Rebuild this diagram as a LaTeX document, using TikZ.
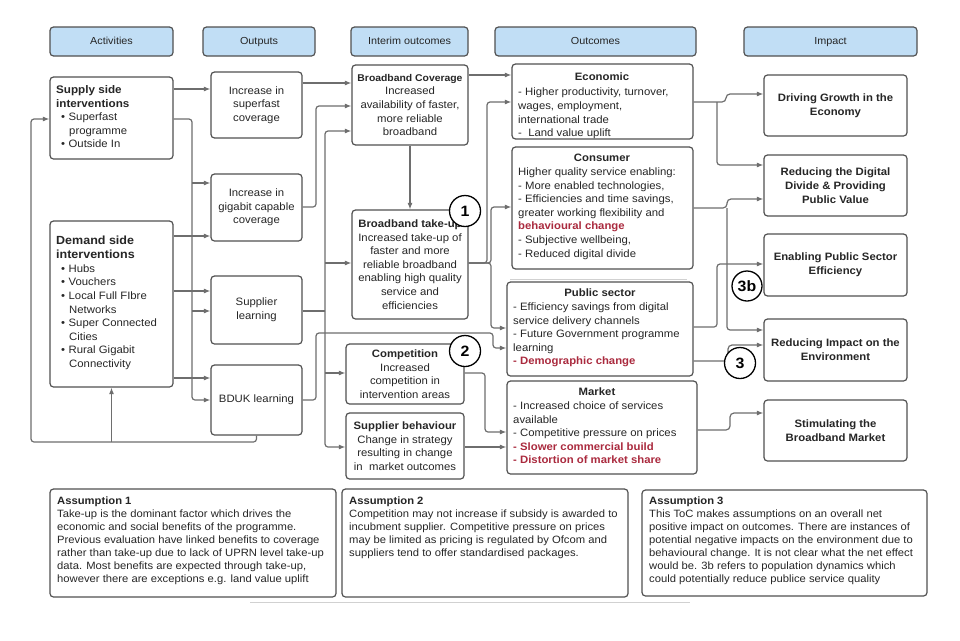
\documentclass[tikz,border=0pt]{standalone}
\usepackage{fontspec}
\setmainfont{Liberation Sans}[FakeStretch=1.06]
\usetikzlibrary{arrows.meta}
\definecolor{bordc}{RGB}{80,80,80}
\definecolor{linec}{RGB}{110,110,110}
\definecolor{hdrfill}{RGB}{193,222,245}
\definecolor{txtc}{RGB}{38,38,38}
\definecolor{redc}{RGB}{170,42,62}
\newcommand\rd[1]{\textcolor{redc}{\textbf{#1}}}
\newcommand\mymp[2]{\begin{minipage}{#1}\raggedright #2\end{minipage}}
\newcommand\bul{\hspace*{5pt}\textbullet\hspace{3.5pt}}
\newcommand\bulc{\hspace*{13pt}}
\begin{document}
\begin{tikzpicture}[x=1pt,y=-1pt,
  bx/.style={draw=bordc, line width=1.2pt, rounded corners=3.5pt, inner sep=0pt, text=txtc, align=center, font=\fontsize{10.7}{13.6}\selectfont},
  hdr/.style={bx, fill=hdrfill, minimum height=29pt, text height=7.8pt, text depth=2.2pt, font=\fontsize{10.2}{12}\selectfont},
  imp/.style={bx, minimum width=143pt, font=\fontsize{10.7}{14}\selectfont\bfseries},
  tx/.style={anchor=north west, inner sep=0pt, text=txtc, font=\fontsize{10.7}{13.6}\selectfont},
  asf/.style={tx, font=\fontsize{10.6}{13}\selectfont},
  ttl/.style={inner sep=0pt, text=txtc, font=\fontsize{10.7}{13.6}\selectfont\bfseries},
  ln/.style={draw=linec, line width=1.2pt},
  arr/.style={ln, -{Latex[length=6.5pt,width=5pt]}},
  num/.style={circle, draw=black, line width=1.3pt, fill=white, minimum size=31pt, inner sep=0pt, font=\fontsize{15}{15}\selectfont\bfseries},
  faint/.style={draw=black!18, line width=0.8pt}]

\fill[white] (0,0) rectangle (960,640);
\useasboundingbox (0,0) rectangle (960,640);

% headers
\node[hdr, minimum width=123pt] (hAct) at (111.5,41.5) {Activities};
\node[hdr, minimum width=112pt] (hOut) at (259,41.5) {Outputs};
\node[hdr, minimum width=117pt] (hInt) at (409.5,41.5) {Interim outcomes};
\node[hdr, minimum width=201pt] (hOutc) at (595.5,41.5) {Outcomes};
\node[hdr, minimum width=173pt] (hImp) at (830.5,41.5) {Impact};

% activities
\node[bx, minimum width=123pt, minimum height=82pt] (sup) at (111.5,118) {};
\node[tx] (supT) at (56,85) {\mymp{120pt}{{\fontsize{11}{14}\selectfont\bfseries Supply side\\interventions\par}\bul Superfast\\\bulc programme\\\bul Outside In}};
\node[bx, minimum width=123pt, minimum height=166pt] (dem) at (111.5,304) {};
\node[tx] (demT) at (56,236) {\mymp{120pt}{{\fontsize{11.8}{14}\selectfont\bfseries Demand side\\interventions\par}\bul Hubs\\\bul Vouchers\\\bul Local Full FIbre\\\bulc Networks\\\bul Super Connected\\\bulc Cities\\\bul Rural Gigabit\\\bulc Connectivity}};

% outputs
\node[bx, minimum width=91pt, minimum height=66pt] (osf) at (256.5,105) {Increase in\\superfast\\coverage};
\node[bx, minimum width=91pt, minimum height=67pt] (ogb) at (256.5,207.5) {Increase in\\gigabit capable\\coverage};
\node[bx, minimum width=91pt, minimum height=68pt] (osl) at (256.5,310) {Supplier\\learning};
\node[bx, minimum width=91pt, minimum height=70pt] (obd) at (256.5,400) {BDUK learning};

% interim outcomes
\node[bx, minimum width=116pt, minimum height=80pt] (icov) at (410,105) {{\fontsize{9.8}{13.5}\selectfont\bfseries Broadband Coverage}\\Increased\\availability of faster,\\more reliable\\broadband};
\node[bx, minimum width=116pt, minimum height=109pt] (itak) at (410,264.5) {\textbf{Broadband take-up}\\Increased take-up of\\faster and more\\reliable broadband\\enabling high quality\\service and\\efficiencies};
\node[bx, minimum width=118pt, minimum height=60pt] (icomp) at (405,374) {\textbf{Competition}\\Increased\\competition in\\intervention areas};
\node[bx, minimum width=118pt, minimum height=66pt] (isb) at (405,446) {\textbf{Supplier behaviour}\\Change in strategy\\resulting in change\\in\ \ market outcomes};

% outcomes
\node[bx, minimum width=181pt, minimum height=75pt] (eco) at (602.5,101.5) {};
\node[ttl] (ecoH) at (602,77) {Economic};
\node[tx] (ecoT) at (518,88) {\mymp{180pt}{- Higher productivity, turnover,\\wages, employment,\\international trade\\-\ \ Land value uplift}};
\node[bx, minimum width=181pt, minimum height=122pt] (con) at (602.5,208) {};
\node[ttl] (conH) at (602,158) {Consumer};
\node[tx] (conT) at (518,167.5) {\mymp{180pt}{Higher quality service enabling:\\- More enabled technologies,\\- Efficiencies and time savings,\\greater working flexibility and\\\rd{behavioural change}\\- Subjective wellbeing,\\- Reduced digital divide}};
\node[bx, minimum width=186pt, minimum height=94pt] (pub) at (600,329) {};
\node[ttl] (pubH) at (600,293) {Public sector};
\node[tx] (pubT) at (513,302.5) {\mymp{185pt}{- Efficiency savings from digital\\service delivery channels\\- Future Government programme\\learning\\\rd{- Demographic change}}};
\node[bx, minimum width=190pt, minimum height=93pt] (mkt) at (602,427.5) {};
\node[ttl] (mktH) at (597,392) {Market};
\node[tx] (mktT) at (513,401.5) {\mymp{185pt}{- Increased choice of services\\available\\- Competitive pressure on prices\\\rd{- Slower commercial build}\\\rd{- Distortion of market share}}};

% impact
\node[imp, minimum height=61pt] (dg) at (835.5,105.5) {Driving Growth in the\\Economy};
\node[imp, minimum height=61pt] (dd) at (835.5,185.5) {Reducing the Digital\\Divide \& Providing\\Public Value};
\node[imp, minimum height=62pt] (pse) at (835.5,265) {Enabling Public Sector\\Efficiency};
\node[imp, minimum height=62pt] (env) at (835.5,350) {Reducing Impact on the\\Environment};
\node[imp, minimum height=61pt] (sbm) at (835.5,430.5) {Stimulating the\\Broadband Market};

% assumptions
\node[bx, minimum width=286pt, minimum height=108pt] (a1) at (193,543) {};
\node[asf] (a1T) at (57,496.5) {\mymp{300pt}{\textbf{Assumption 1}\\Take-up is the dominant factor which drives the\\economic and social benefits of the programme.\\Previous evaluation have linked benefits to coverage\\rather than take-up due to lack of UPRN level take-up\\data. Most benefits are expected through take-up,\\however there are exceptions e.g. land value uplift}};
\node[bx, minimum width=286pt, minimum height=108pt] (a2) at (485,543) {};
\node[asf] (a2T) at (349,496.5) {\mymp{300pt}{\textbf{Assumption 2}\\Competition may not increase if subsidy is awarded to\\incubment supplier. Competitive pressure on prices\\may be limited as pricing is regulated by Ofcom and\\suppliers tend to offer standardised packages.}};
\node[bx, minimum width=285pt, minimum height=106pt] (a3) at (784.5,543) {};
\node[asf] (a3T) at (649,496.5) {\mymp{300pt}{\textbf{Assumption 3}\\This ToC makes assumptions on an overall net\\positive impact on outcomes. There are instances of\\potential negative impacts on the environment due to\\behavioural change. It is not clear what the net effect\\would be. 3b refers to population dynamics which\\could potentially reduce publice service quality}};

% faint artefact lines
\draw[faint] (510,279) -- (687,279);
\draw[faint] (250,602) -- (690,602);

% activities -> outputs
\draw[arr] (sup.east|-0,89) -- (osf.west|-0,89);
\draw[arr, rounded corners=3pt] (sup.east|-0,119) -- (192,119) -- (192,400) -- (obd.west|-0,400);
\draw[arr] (192,183) -- (ogb.west|-0,183);
\draw[arr] (192,311) -- (osl.west|-0,311);
\draw[arr] (dem.east|-0,236) -- (ogb.west|-0,236);
\draw[arr] (dem.east|-0,291) -- (osl.west|-0,291);
\draw[arr] (dem.east|-0,378) -- (obd.west|-0,378);
% feedback
\draw[arr, rounded corners=3pt] (obd.south) -- (obd.south|-0,442) -- (31,442) -- (31,119) -- (sup.west|-0,119);
\draw[arr] (dem.south|-0,442) -- (dem.south);

% outputs -> interim
\draw[arr] (osf.east|-0,83) -- (icov.west|-0,83);
\draw[arr, rounded corners=3pt] (ogb.east|-0,207) -- (316,207) -- (316,106) -- (icov.west|-0,106);
\draw[ln] (osl.east|-0,311) -- (325,311);
\draw[arr, rounded corners=3pt] (325,311) -- (325,131) -- (icov.west|-0,131);
\draw[arr, rounded corners=3pt] (325,311) -- (325,447) -- (isb.west|-0,447);
\draw[arr] (325,263) -- (itak.west|-0,263);
\draw[arr] (325,373) -- (icomp.west|-0,373);
\draw[arr, rounded corners=3pt] (obd.east|-0,400) -- (316,400) -- (316,333) -- (493,333) -- (493,348) -- (pub.west|-0,348);

% interim -> outcomes
\draw[arr] (icov.east|-0,75) -- (eco.west|-0,75);
\draw[arr] (icov.south) -- (itak.north);
\draw[arr, rounded corners=3pt] (itak.east|-0,263) -- (487,263) -- (487,102) -- (eco.west|-0,102);
\draw[arr, rounded corners=3pt] (itak.east|-0,263) -- (491,263) -- (491,207) -- (con.west|-0,207);
\draw[arr, rounded corners=3pt] (itak.east|-0,263) -- (491,263) -- (491,328) -- (pub.west|-0,328);
\draw[arr, rounded corners=3pt] (icomp.east|-0,373) -- (485,373) -- (485,432) -- (mkt.west|-0,432);
\draw[arr] (isb.east|-0,447) -- (mkt.west|-0,447);

% outcomes -> impact
\draw[arr, rounded corners=4pt] (eco.east|-0,102) -- (726,102) -- (726,94) -- (dg.west|-0,94);
\draw[arr, rounded corners=3pt] (717,102) -- (717,165) -- (dd.west|-0,165);
\draw[arr, rounded corners=4pt] (con.east|-0,208) -- (727,208) -- (727,199) -- (dd.west|-0,199);
\draw[arr, rounded corners=3pt] (727,208) -- (727,330) -- (env.west|-0,330);
\draw[arr, rounded corners=3pt] (pub.east|-0,327) -- (717,327) -- (717,264) -- (pse.west|-0,264);
\draw[arr, rounded corners=4pt] (pub.east|-0,361) -- (728,361) -- (728,345) -- (env.west|-0,345);
\draw[arr, rounded corners=4pt] (mkt.east|-0,430) -- (730,430) -- (730,413) -- (sbm.west|-0,413);

% numbered circles
\node[num] (c1) at (465,211) {1};
\node[num] (c2) at (465,351) {2};
\node[num, minimum size=30pt] (c3b) at (747,286) {3b};
\node[num] (c3) at (740,363) {3};
\end{tikzpicture}
\end{document}
